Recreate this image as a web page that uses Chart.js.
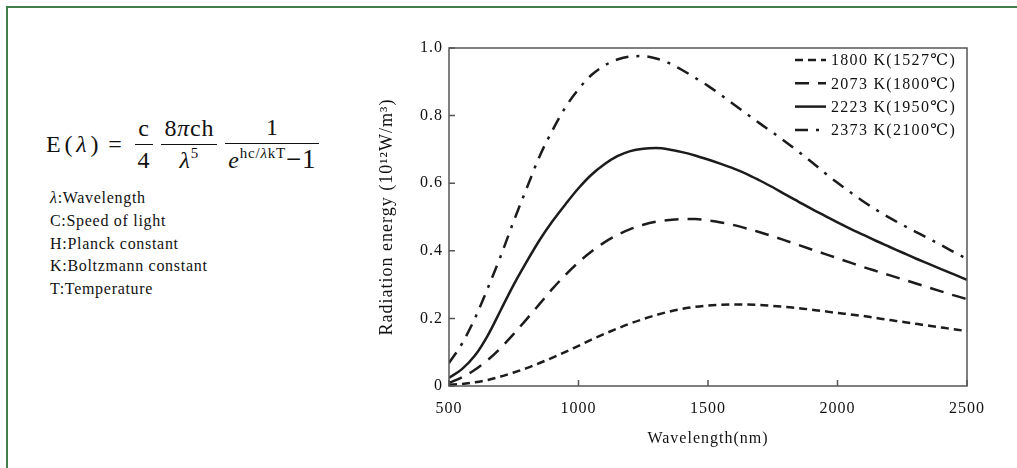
<!DOCTYPE html>
<html>
<head>
<meta charset="utf-8">
<script src="https://cdn.jsdelivr.net/npm/chart.js@4.4.1/dist/chart.umd.min.js"></script>
<style>
  body { margin: 0; background: #fff; }
  #page { position: relative; width: 1017px; height: 468px; overflow: hidden; font-family: 'Liberation Serif', 'DejaVu Serif', serif; color: #111; }
  #frameTop { position: absolute; left: 6px; top: 6px; width: 1020px; height: 1.5px; background: #3f7f4a; }
  #frameLeft { position: absolute; left: 6px; top: 6px; width: 1.5px; height: 470px; background: #3f7f4a; }
  #formula { position: absolute; left: 46px; top: 114px; font-size: 24px; display: flex; align-items: center; white-space: nowrap; letter-spacing: 0.8px; }
  .frac { display: inline-flex; flex-direction: column; align-items: center; margin: 0 4px; }
  .frac .num { padding: 0 3px 2px; border-bottom: 1.5px solid #111; line-height: 27px; align-self: stretch; text-align: center; }
  .frac .den { padding: 2px 3px 0; line-height: 27px; }
  .eq { margin: 0 8px 0 6px; }
  .par { margin: 0 3px; }
  sup { font-size: 15px; vertical-align: 10px; line-height: 0; }
  .one { font-size: 27px; }
  #vars { position: absolute; left: 50px; top: 187px; font-size: 16px; line-height: 22.8px; letter-spacing: 0.7px; }
  #myChart { position: absolute; left: 0; top: 0; }
</style>
</head>
<body>
<div id="page">
  <div id="frameTop"></div>
  <div id="frameLeft"></div>
  <div id="formula">
    <span>E<span class="par">(</span><i>λ</i><span class="par">)</span></span><span class="eq">=</span>
    <span class="frac"><span class="num">c</span><span class="den">4</span></span>
    <span class="frac"><span class="num">8<i>π</i>ch</span><span class="den"><i>λ</i><sup>5</sup></span></span>
    <span class="frac"><span class="num">1</span><span class="den"><i>e</i><sup>hc/<i>λ</i>kT</sup><span class="one">−1</span></span></span>
  </div>
  <div id="vars">
    <i>λ</i>:Wavelength<br>
    C:Speed of light<br>
    H:Planck constant<br>
    K:Boltzmann constant<br>
    T:Temperature
  </div>
  <canvas id="myChart" width="1017" height="468"></canvas>
</div>
<script>
// wavelength in nm
const wavelengths = [500, 550, 600, 650, 700, 750, 800, 850, 900, 950,
    1000, 1050, 1100, 1150, 1200, 1250, 1300, 1350, 1400, 1450,
    1500, 1550, 1600, 1650, 1700, 1750, 1800, 1850, 1900, 1950,
    2000, 2050, 2100, 2150, 2200, 2250, 2300, 2350, 2400, 2450, 2500];

// radiation energy (10^12 W/m3)
const e1800 = [0.004, 0.006, 0.011, 0.018, 0.028, 0.040, 0.053, 0.068, 0.084, 0.101,
    0.119, 0.137, 0.154, 0.170, 0.185, 0.198, 0.210, 0.220, 0.228, 0.234,
    0.238, 0.240, 0.241, 0.241, 0.240, 0.237, 0.234, 0.230, 0.226, 0.221,
    0.216, 0.212, 0.207, 0.201, 0.195, 0.190, 0.184, 0.179, 0.173, 0.168, 0.162];
const e2073 = [0.009, 0.026, 0.048, 0.077, 0.113, 0.154, 0.198, 0.243, 0.288, 0.329,
    0.366, 0.398, 0.425, 0.447, 0.464, 0.477, 0.486, 0.491, 0.494, 0.494,
    0.490, 0.484, 0.476, 0.466, 0.455, 0.443, 0.430, 0.417, 0.404, 0.391,
    0.378, 0.365, 0.352, 0.340, 0.328, 0.316, 0.304, 0.292, 0.280, 0.268, 0.257];
const e2223 = [0.024, 0.050, 0.090, 0.150, 0.225, 0.300, 0.368, 0.432, 0.488, 0.538,
    0.585, 0.625, 0.656, 0.680, 0.695, 0.702, 0.704, 0.700, 0.692, 0.682,
    0.670, 0.657, 0.643, 0.627, 0.608, 0.588, 0.566, 0.545, 0.524, 0.504,
    0.484, 0.465, 0.447, 0.429, 0.412, 0.395, 0.378, 0.362, 0.346, 0.330, 0.314];
const e2373 = [0.068, 0.125, 0.200, 0.290, 0.385, 0.488, 0.585, 0.680, 0.757, 0.825,
    0.878, 0.920, 0.948, 0.966, 0.975, 0.976, 0.969, 0.955, 0.935, 0.912,
    0.888, 0.861, 0.833, 0.805, 0.777, 0.750, 0.722, 0.693, 0.663, 0.631,
    0.601, 0.573, 0.546, 0.521, 0.498, 0.477, 0.457, 0.437, 0.417, 0.396, 0.376];

const seriesLabels = ['1800 K(1527℃)', '2073 K(1800℃)', '2223 K(1950℃)', '2373 K(2100℃)'];
const xTicks = [500, 1000, 1500, 2000, 2500];
const yTicks = [0, 0.2, 0.4, 0.6, 0.8, 1.0];

const lineColor = '#1c1c1c';
const dashes = [[8, 5], [14, 9], [], [13, 8, 3, 8]];
const serif = "'Liberation Serif', 'DejaVu Serif', serif";

function toPoints(values) {
    return wavelengths.map((w, i) => ({x: w, y: values[i]}));
}

// box round the plot and the small inward ticks
const frameAndTicks = {
    id: 'frameAndTicks',
    beforeDraw(chart) {
        chart.ctx.letterSpacing = '1px';
    },
    afterDatasetsDraw(chart) {
        const {ctx, chartArea: a, scales: {x, y}} = chart;
        ctx.save();
        ctx.strokeStyle = '#555';
        ctx.lineWidth = 1.5;
        ctx.setLineDash([]);
        ctx.strokeRect(a.left, a.top, a.right - a.left, a.bottom - a.top);
        ctx.beginPath();
        xTicks.forEach(v => {
            const px = x.getPixelForValue(v);
            ctx.moveTo(px, a.bottom);
            ctx.lineTo(px, a.bottom - 6);
        });
        yTicks.forEach(v => {
            const py = y.getPixelForValue(v);
            ctx.moveTo(a.left, py);
            ctx.lineTo(a.left + 6, py);
        });
        ctx.stroke();
        ctx.restore();
    }
};

// legend at top right, inside the plot
const innerLegend = {
    id: 'innerLegend',
    afterDraw(chart) {
        const ctx = chart.ctx;
        const a = chart.chartArea;
        ctx.save();
        ctx.font = "16px " + serif;
        ctx.letterSpacing = '1.3px';
        ctx.fillStyle = '#111';
        ctx.textBaseline = 'middle';
        chart.data.datasets.forEach((ds, i) => {
            const yy = a.top + 12 + i * 23.3;
            const x0 = a.right - 172;
            ctx.strokeStyle = lineColor;
            ctx.lineWidth = 2.5;
            ctx.setLineDash(ds.borderDash);
            ctx.beginPath();
            ctx.moveTo(x0, yy);
            ctx.lineTo(x0 + 31, yy);
            ctx.stroke();
            ctx.fillText(ds.label, x0 + 36, yy + 1);
        });
        ctx.restore();
    }
};

const ctx = document.getElementById('myChart');
const energyChart = new Chart(ctx, {
    type: 'line',
    data: {
        datasets: seriesLabels.map((label, i) => ({
            label: label,
            data: toPoints([e1800, e2073, e2223, e2373][i]),
            borderColor: lineColor,
            borderWidth: 2.5,
            borderDash: dashes[i],
            pointRadius: 0,
            cubicInterpolationMode: 'monotone',
            fill: false
        }))
    },
    options: {
        responsive: false,
        animation: false,
        devicePixelRatio: 1,
        layout: {
            padding: {left: 370, right: 50, top: 48, bottom: 0}
        },
        plugins: {
            legend: {display: false},
            tooltip: {enabled: false}
        },
        scales: {
            x: {
                type: 'linear',
                min: 500,
                max: 2500,
                afterFit: s => { s.height = 82; },
                afterBuildTicks: s => { s.ticks = xTicks.map(v => ({value: v})); },
                grid: {display: false, drawTicks: false},
                border: {display: false},
                ticks: {
                    padding: 13,
                    color: '#111',
                    font: {family: serif, size: 16},
                    maxRotation: 0,
                    callback: v => String(v)
                },
                title: {
                    display: true,
                    text: 'Wavelength(nm)',
                    color: '#111',
                    font: {family: serif, size: 16},
                    padding: {top: 0, bottom: 20}
                }
            },
            y: {
                min: 0,
                max: 1,
                afterFit: s => { s.width = 79; },
                afterBuildTicks: s => { s.ticks = yTicks.map(v => ({value: v})); },
                grid: {display: false, drawTicks: false},
                border: {display: false},
                ticks: {
                    padding: 6,
                    color: '#111',
                    font: {family: serif, size: 16},
                    callback: v => v === 0 ? '0' : v.toFixed(1)
                },
                title: {
                    display: true,
                    text: 'Radiation energy (10¹²W/m³)',
                    color: '#111',
                    font: {family: serif, size: 18},
                    padding: {top: 6, bottom: 0}
                }
            }
        }
    },
    plugins: [frameAndTicks, innerLegend]
});
</script>
</body>
</html>
